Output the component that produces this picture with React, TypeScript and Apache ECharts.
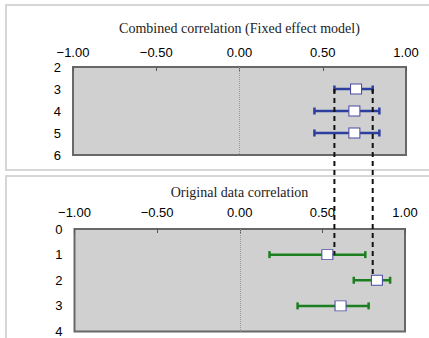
import React, { useEffect, useRef } from "react";
import * as echarts from "echarts";

const xTickValues = [-1, -0.5, 0, 0.5, 1];
const xTickLabels = ["\u22121.00", "\u22120.50", "0.00", "0.50", "1.00"];

const combinedTitle = "Combined correlation (Fixed effect model)";
const combinedRows = [3, 4, 5];
const combinedEst = [0.7, 0.69, 0.69];
const combinedLo = [0.57, 0.45, 0.45];
const combinedHi = [0.8, 0.84, 0.84];

const originalTitle = "Original data correlation";
const originalRows = [1, 2, 3];
const originalEst = [0.53, 0.83, 0.61];
const originalLo = [0.18, 0.69, 0.35];
const originalHi = [0.76, 0.91, 0.78];

// dashed reference lines: combined row-3 CI bounds, ending at original rows
const dashedValues = [combinedLo[0], combinedHi[0]];
const dashedStartRow = combinedRows[0];
const dashedEndRows = [1, 2];

const BLUE = "#2c3e9e";
const GREEN = "#1b7f1f";
const SQUARE_BORDER = "#4b4ba3";
const TICK_FONT = "'Liberation Sans', Arial, sans-serif";
const TITLE_FONT = "'Liberation Serif', 'Times New Roman', serif";

function errorBarItem(color: string) {
  return (params: any, api: any) => {
    const row = api.value(2);
    const p1 = api.coord([api.value(0), row]);
    const p2 = api.coord([api.value(1), row]);
    const h = 3.5;
    const style = { stroke: color, lineWidth: 2.5, fill: "none" };
    return {
      type: "group",
      children: [
        { type: "line", shape: { x1: p1[0], y1: p1[1], x2: p2[0], y2: p2[1] }, style },
        { type: "line", shape: { x1: p1[0], y1: p1[1] - h, x2: p1[0], y2: p1[1] + h }, style },
        { type: "line", shape: { x1: p2[0], y1: p2[1] - h, x2: p2[0], y2: p2[1] + h }, style },
      ],
    };
  };
}

function xAxisCfg(gridIndex: number, margin: number) {
  return {
    type: "value",
    gridIndex,
    position: "top",
    min: -1,
    max: 1,
    interval: 0.5,
    axisLine: { show: false },
    axisTick: { show: true, inside: true, length: 4, lineStyle: { color: "#555", width: 1 } },
    splitLine: { show: false },
    axisLabel: {
      margin,
      fontSize: 13,
      fontFamily: TICK_FONT,
      color: "#000",
      formatter: (v: number) => {
        const i = xTickValues.findIndex((t) => Math.abs(t - v) < 1e-9);
        return i >= 0 ? xTickLabels[i] : "";
      },
    },
  };
}

function yAxisCfg(gridIndex: number, min: number, max: number) {
  return {
    type: "value",
    gridIndex,
    min,
    max,
    interval: 1,
    inverse: true,
    axisLine: { show: false },
    axisTick: { show: false },
    splitLine: { show: false },
    axisLabel: { margin: 12, fontSize: 13, fontFamily: TICK_FONT, color: "#000" },
  };
}

const zeroMark = {
  silent: true,
  symbol: "none",
  label: { show: false },
  lineStyle: { color: "#9a9a9a", type: "dotted", width: 1 },
  data: [{ xAxis: 0 }],
};

export default function App() {
  const ref = useRef<HTMLDivElement>(null);
  useEffect(() => {
    if (!ref.current) return;
    const chart = echarts.init(ref.current, null, { renderer: "svg" });
    const gridStyle = {
      show: true,
      backgroundColor: "#d0d0d0",
      borderColor: "#686868",
      borderWidth: 2,
    };
    chart.setOption({
      animation: false,
      grid: [
        { ...gridStyle, left: 73, right: 23, top: 67, height: 88 },
        { ...gridStyle, left: 74.5, right: 24, top: 229, height: 105 },
      ],
      xAxis: [xAxisCfg(0, 8), xAxisCfg(1, 10)],
      yAxis: [yAxisCfg(0, 2, 6), yAxisCfg(1, 0, 4)],
      series: [
        {
          type: "custom",
          xAxisIndex: 0,
          yAxisIndex: 0,
          z: 2,
          renderItem: errorBarItem(BLUE),
          encode: { x: [0, 1], y: 2 },
          data: combinedRows.map((r, i) => [combinedLo[i], combinedHi[i], r]),
          markLine: zeroMark,
        },
        {
          type: "custom",
          xAxisIndex: 1,
          yAxisIndex: 1,
          z: 2,
          renderItem: errorBarItem(GREEN),
          encode: { x: [0, 1], y: 2 },
          data: originalRows.map((r, i) => [originalLo[i], originalHi[i], r]),
          markLine: zeroMark,
        },
        {
          type: "scatter",
          xAxisIndex: 0,
          yAxisIndex: 0,
          z: 5,
          symbol: "rect",
          symbolSize: [11, 10],
          itemStyle: { color: "#fff", borderColor: SQUARE_BORDER, borderWidth: 1, opacity: 1 },
          data: combinedRows.map((r, i) => [combinedEst[i], r]),
        },
        {
          type: "scatter",
          xAxisIndex: 1,
          yAxisIndex: 1,
          z: 5,
          symbol: "rect",
          symbolSize: [11, 10],
          itemStyle: { color: "#fff", borderColor: SQUARE_BORDER, borderWidth: 1, opacity: 1 },
          data: originalRows.map((r, i) => [originalEst[i], r]),
        },
      ],
    });

    const g0l = chart.convertToPixel({ gridIndex: 0 }, [-1, 2]) as number[];
    const g0r = chart.convertToPixel({ gridIndex: 0 }, [1, 2]) as number[];
    const cx0 = (g0l[0] + g0r[0]) / 2;

    const dashed = dashedValues.map((v, i) => {
      const top = chart.convertToPixel({ gridIndex: 0 }, [v, dashedStartRow]) as number[];
      const bot = chart.convertToPixel({ gridIndex: 1 }, [v, dashedEndRows[i]]) as number[];
      return {
        type: "line",
        z: 4,
        silent: true,
        shape: { x1: top[0], y1: top[1], x2: top[0], y2: bot[1] },
        style: { stroke: "#111", lineWidth: 2, lineDash: [5, 4] },
      };
    });

    chart.setOption({
      graphic: [
        {
          type: "rect",
          z: -10,
          silent: true,
          shape: { x: 6, y: 5, width: 440, height: 165 },
          style: { fill: "none", stroke: "#d6d6d6", lineWidth: 2 },
        },
        {
          type: "rect",
          z: -10,
          silent: true,
          shape: { x: 6, y: 176, width: 440, height: 180 },
          style: { fill: "none", stroke: "#d6d6d6", lineWidth: 2 },
        },
        {
          type: "text",
          z: 5,
          x: cx0,
          y: 28,
          style: {
            text: combinedTitle,
            font: `14px ${TITLE_FONT}`,
            fill: "#222",
            textAlign: "center",
            textVerticalAlign: "middle",
          },
        },
        {
          type: "text",
          z: 5,
          x: cx0,
          y: 192,
          style: {
            text: originalTitle,
            font: `14px ${TITLE_FONT}`,
            fill: "#222",
            textAlign: "center",
            textVerticalAlign: "middle",
          },
        },
        ...dashed,
      ],
    });

    return () => chart.dispose();
  }, []);
  return (
    <div
      ref={ref}
      style={{ position: "fixed", left: 0, top: 0, width: 429, height: 338, background: "#fff" }}
    />
  );
}
